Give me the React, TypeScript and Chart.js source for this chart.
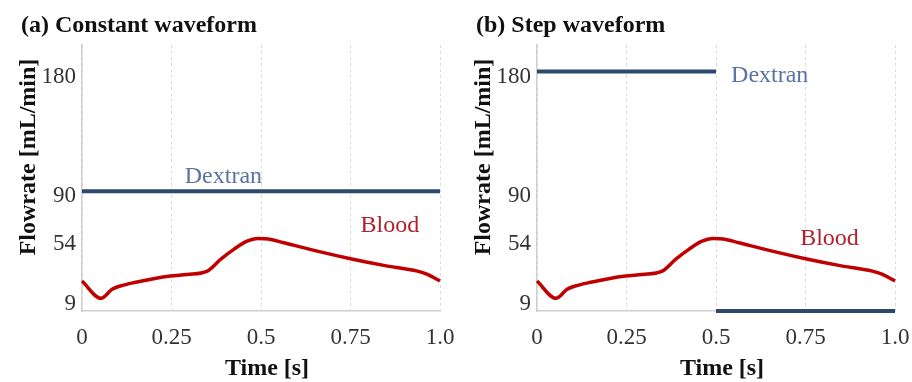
import React, { useEffect, useRef } from "react";
import { Chart, registerables } from "chart.js";

Chart.register(...registerables);

// ---- data ----
const timeTicks = [0, 0.25, 0.5, 0.75, 1.0];
const timeTickLabels = ["0", "0.25", "0.5", "0.75", "1.0"];
const flowTicks = [9, 54, 90, 180];

const bloodTime = [0, 0.053, 0.084, 0.107, 0.154, 0.2, 0.247, 0.294, 0.35, 0.387, 0.424, 0.461, 0.49, 0.51, 0.527, 0.564, 0.657, 0.75, 0.843, 0.937, 0.965, 1.0];
const bloodFlow = [22.5, 9.5, 16.3, 18.8, 21.8, 24.3, 26.3, 27.5, 30, 38.8, 46.3, 52.5, 54.5, 54.3, 53.8, 51.3, 45, 39.3, 34.3, 30, 27.5, 22.5];

const dextranConstTime = [0, 1.0];
const dextranConstFlow = [90, 90];

const dextranStepTime = [0, 0.5, 0.5, 0.5, 1.0];
const dextranStepFlow: (number | null)[] = [180, 180, null, 0, 0];

const FONT = '"Liberation Serif", "Times New Roman", serif';
const BLOOD_COLOR = "#c00000";
const DEXTRAN_COLOR = "#2d4a6d";
const BLOOD_TEXT = "#b3202c";
const DEXTRAN_TEXT = "#5a73a5";

const toPoints = (xs: number[], ys: (number | null)[]) => xs.map((x, i) => ({ x, y: ys[i] }));

const textPlugin = {
  id: "panelText",
  afterDraw(chart: any, _args: any, opts: any) {
    const { ctx, chartArea, scales } = chart;
    ctx.save();
    ctx.fillStyle = "#111";
    ctx.font = `bold 24px ${FONT}`;
    ctx.textAlign = "left";
    ctx.textBaseline = "alphabetic";
    ctx.fillText(opts.title, 21, 32);

    ctx.save();
    ctx.translate(35, 157);
    ctx.rotate(-Math.PI / 2);
    ctx.textAlign = "center";
    ctx.fillText("Flowrate [mL/min]", 0, 0);
    ctx.restore();

    ctx.textAlign = "center";
    ctx.fillText("Time [s]", (chartArea.left + chartArea.right) / 2 + 6, 375);

    ctx.font = `24px ${FONT}`;
    for (const l of opts.labels) {
      ctx.fillStyle = l.color;
      ctx.fillText(l.text, scales.x.getPixelForValue(l.x), scales.y.getPixelForValue(l.y));
    }
    ctx.restore();
  },
};

function Panel({ title, dextran, labels, left }: any) {
  const ref = useRef<HTMLCanvasElement>(null);
  useEffect(() => {
    if (!ref.current) return;
    const chart = new Chart(ref.current, {
      type: "line",
      data: {
        datasets: [
          {
            data: dextran,
            borderColor: DEXTRAN_COLOR,
            borderWidth: 4,
            pointRadius: 0,
            spanGaps: false,
            clip: false as any,
            tension: 0,
          },
          {
            data: toPoints(bloodTime, bloodFlow),
            borderColor: BLOOD_COLOR,
            borderWidth: 3.5,
            pointRadius: 0,
            cubicInterpolationMode: "monotone",
            clip: false as any,
          },
        ],
      },
      options: {
        animation: false,
        responsive: false,
        maintainAspectRatio: false,
        layout: { padding: { top: 45, right: 16, left: 0, bottom: 0 } },
        plugins: {
          legend: { display: false },
          tooltip: { enabled: false },
          title: { display: false },
          panelText: { title, labels },
        } as any,
        scales: {
          x: {
            type: "linear",
            min: 0,
            max: 1,
            afterBuildTicks: (s: any) => {
              s.ticks = timeTicks.map((v) => ({ value: v }));
            },
            afterFit: (s: any) => {
              s.height = 71;
              s.paddingLeft = 0;
              s.paddingRight = 0;
            },
            grid: { display: true, color: "#dcdcdc", lineWidth: 1, drawTicks: false },
            border: { display: true, color: "#cfcfcf", width: 1.5, dash: [3, 3] },
            ticks: {
              padding: 13,
              autoSkip: false,
              maxRotation: 0,
              color: "#333",
              font: { family: FONT, size: 23 },
              callback: (v: any) => {
                const i = timeTicks.indexOf(Number(v));
                return i >= 0 ? timeTickLabels[i] : "";
              },
            },
          },
          y: {
            type: "linear",
            min: 0,
            max: 200,
            afterBuildTicks: (s: any) => {
              s.ticks = flowTicks.map((v) => ({ value: v }));
            },
            afterFit: (s: any) => {
              s.width = 82;
              s.paddingTop = 0;
              s.paddingBottom = 0;
            },
            grid: { display: false, drawTicks: false },
            border: { display: true, color: "#cfcfcf", width: 1.5 },
            ticks: {
              padding: 6,
              labelOffset: 5,
              color: "#333",
              font: { family: FONT, size: 23 },
              callback: (v: any) => String(v),
            },
          },
        },
      } as any,
      plugins: [textPlugin as any],
    });
    return () => chart.destroy();
  }, []);
  return (
    <canvas
      ref={ref}
      width={456}
      height={382}
      style={{ position: "absolute", left, top: 0, width: 456, height: 382, display: "block" }}
    />
  );
}

export default function App() {
  return (
    <div style={{ position: "fixed", left: 0, top: 0, width: 912, height: 382, background: "#fff" }}>
      <Panel
        title="(a) Constant waveform"
        left={0}
        dextran={toPoints(dextranConstTime, dextranConstFlow)}
        labels={[
          { text: "Dextran", x: 0.395, y: 96.5, color: DEXTRAN_TEXT },
          { text: "Blood", x: 0.86, y: 59.3, color: BLOOD_TEXT },
        ]}
      />
      <Panel
        title="(b) Step waveform"
        left={455}
        dextran={toPoints(dextranStepTime, dextranStepFlow)}
        labels={[
          { text: "Dextran", x: 0.65, y: 172.5, color: DEXTRAN_TEXT },
          { text: "Blood", x: 0.817, y: 50, color: BLOOD_TEXT },
        ]}
      />
    </div>
  );
}
